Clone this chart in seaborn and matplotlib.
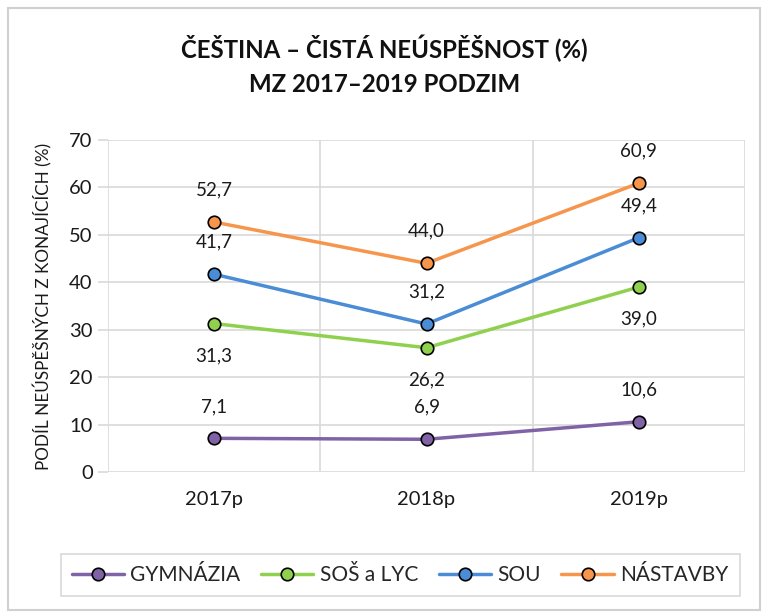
import matplotlib
matplotlib.use("Agg")
import matplotlib.pyplot as plt
import seaborn as sns
import pandas as pd
from matplotlib.patches import Rectangle

years = ["2017p", "2018p", "2019p"]
gymnazia = [7.1, 6.9, 10.6]
sos_lyc = [31.3, 26.2, 39.0]
sou = [41.7, 31.2, 49.4]
nastavby = [52.7, 44.0, 60.9]
series_names = ["GYMNÁZIA", "SOŠ a LYC", "SOU", "NÁSTAVBY"]
colors = ["#7F63A6", "#8FD14F", "#4A8CD6", "#F6954B"]
label_side = [[1, 1, 1], [-1, -1, -1], [1, 1, 1], [1, 1, 1]]

sns.set_theme(style="white")
plt.rcParams['font.family'] = ['Lato', 'DejaVu Sans']

series_vals = [gymnazia, sos_lyc, sou, nastavby]
rows = []
for name, vals in zip(series_names, series_vals):
    for i, (yr, v) in enumerate(zip(years, vals)):
        rows.append({"x": i, "year": yr, "value": v, "series": name})
df = pd.DataFrame(rows)

fig = plt.figure(figsize=(7.69, 6.14), dpi=100)
ax = fig.add_axes([108/769, 1-472/614, (745-108)/769, (472-140)/614])

sns.lineplot(data=df, x="x", y="value", hue="series", hue_order=series_names,
             palette=colors, marker="o", markersize=9, markeredgecolor="black",
             markeredgewidth=1.2, linewidth=2.5, ax=ax, legend=True)

for name, vals, side in zip(series_names, series_vals, label_side):
    for i, v in enumerate(vals):
        ax.annotate(f"{v:.1f}".replace(".", ","), (i, v), xytext=(0, 23*side[i]),
                    textcoords="offset points", ha="center", va="center",
                    fontsize=13.5, color="#1a1a1a")

ax.set_xlim(-0.5, 2.5)
ax.set_ylim(0, 70)
ax.set_yticks(range(0, 71, 10))
ax.set_xticks([0, 1, 2])
ax.set_xticklabels(years)
ax.set_xticks([-0.5, 0.5, 1.5, 2.5], minor=True)
ax.grid(True, axis="y", color="#d9d9d9", linewidth=1.2)
ax.grid(True, axis="x", which="minor", color="#d9d9d9", linewidth=1.2)
ax.grid(False, axis="x", which="major")
for s in ax.spines.values():
    s.set_visible(False)
ax.tick_params(axis="y", length=7, color="#d9d9d9", width=1.2, labelsize=14.5, pad=4, labelcolor="#1a1a1a")
ax.tick_params(axis="x", which="major", length=0, labelsize=14.5, pad=14, labelcolor="#1a1a1a")
ax.tick_params(axis="x", which="minor", length=7, color="#d9d9d9", width=1.2, direction="out")
ax.tick_params(axis="y", left=True)
ax.set_xlabel("")
ax.set_ylabel("PODÍL NEÚSPĚŠNÝCH Z KONAJÍCÍCH (%)", fontsize=12.3, color="#1a1a1a", labelpad=12)

fig.text(0.5, 1-48/614, "ČEŠTINA – ČISTÁ NEÚSPĚŠNOST (%)", ha="center", va="center",
         fontsize=17.3, fontweight="bold", color="#111111")
fig.text(0.5, 1-85/614, "MZ 2017–2019 PODZIM", ha="center", va="center",
         fontsize=17.3, fontweight="bold", color="#111111")

ax.get_legend().remove()
handles, labels = ax.get_legend_handles_labels()
leg = fig.legend(handles, labels, loc="center", bbox_to_anchor=(400/769, 1-575/614),
                 ncol=4, frameon=True, fancybox=False, fontsize=15, handlelength=2.5,
                 columnspacing=1.0, handletextpad=0.3, borderpad=0.55)
leg.get_frame().set_edgecolor("#d0d0d0")
leg.get_frame().set_linewidth(1.2)

fig.patches.append(Rectangle((8/769, 1-610/614), (760-8)/769, (610-8)/614,
                             transform=fig.transFigure, fill=False,
                             edgecolor="#d0d0d0", linewidth=1.5))

fig.savefig("out.png", dpi=100)
